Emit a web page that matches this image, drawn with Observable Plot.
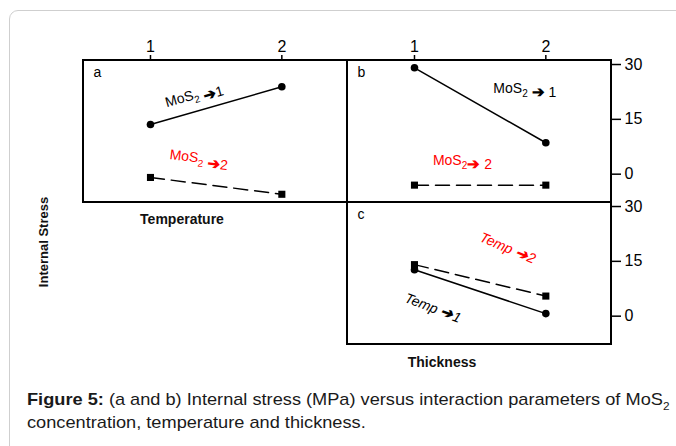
<!DOCTYPE html>
<html><head><meta charset="utf-8">
<script src="https://cdn.jsdelivr.net/npm/d3@7"></script>
<script src="https://cdn.jsdelivr.net/npm/@observablehq/plot@0.6"></script>
<style>
body{margin:0;background:#fff;font-family:"Liberation Sans",Arial,sans-serif;}
#wrap{position:relative;width:676px;height:446px;overflow:hidden;background:#fff;}
#card{position:absolute;left:9px;top:10px;width:720px;height:520px;border:1px solid #cfcfcf;border-radius:9px;}
#chart{position:absolute;left:0;top:0;}
.lab{position:absolute;font-weight:bold;font-size:14px;color:#111;white-space:nowrap;transform:translate(-50%,-50%);}
#ylab{font-size:13px;transform:translate(-50%,-50%) rotate(-90deg);}
#cap{position:absolute;left:27px;top:389px;font-size:17px;line-height:21.4px;color:#1a1a1a;transform:scaleX(1.07);transform-origin:0 0;white-space:nowrap;}
#cap .sub{font-size:11px;position:relative;top:5px;}
</style></head><body>
<div id="wrap">
<div id="card"></div>
<div id="chart"></div>
<div class="lab" id="ylab" style="left:43px;top:242px">Internal Stress</div>
<div class="lab" id="xlab1" style="left:182px;top:219px">Temperature</div>
<div class="lab" id="xlab2" style="left:442px;top:362px">Thickness</div>
<div id="cap"><b>Figure 5:</b> (a and b) Internal stress (MPa) versus interaction parameters of MoS<span class="sub">2</span><br>concentration, temperature and thickness.</div>
</div>
<script>
// Factor levels on the x axis
const levels = [1, 2];
// Panels
const panels = ["a", "b", "c"];
const panelCols = ["left", "right", "right"];
const panelRows = ["top", "top", "bottom"];
// Internal stress (MPa): level 1 (solid, circles) and level 2 (dashed, squares) of the traced factor
const aLevel1 = [13.6, 23.9];   // MoS2 -> 1 vs Temperature
const aLevel2 = [-0.9, -5.5];   // MoS2 -> 2 vs Temperature
const bLevel1 = [29.1, 8.6];    // MoS2 -> 1 vs Thickness
const bLevel2 = [-3.0, -3.0];   // MoS2 -> 2 vs Thickness
const cLevel1 = [12.7, 0.7];    // Temp -> 1 vs Thickness
const cLevel2 = [14.1, 5.5];    // Temp -> 2 vs Thickness
// Y ticks
const yTicks = [0, 15, 30];
// Trace labels
const traceLabels = ["MoS_2 ➔1", "MoS_2 ➔2", "MoS_2 ➔ 1", "MoS_2➔ 2", "Temp ➔2", "Temp ➔1"];
const labelPanels = ["a", "a", "b", "b", "c", "c"];

const series1 = [aLevel1, bLevel1, cLevel1];
const series2 = [aLevel2, bLevel2, cLevel2];
const panelTable = panels.map((p, i) => ({panel: p, col: panelCols[i], row: panelRows[i]}));
const toRows = (series) => panels.flatMap((p, i) =>
  levels.map((lv, j) => ({panel: p, col: panelCols[i], row: panelRows[i], x: lv, y: series[i][j]})));
const rows1 = toRows(series1);
const rows2 = toRows(series2);

const xDomain = [0.49, 2.5];
const yDomain = [-7.75, 31.1];

// label layout (position in data units, rotation, colour, style)
const labelLayout = [
  {x: 1.33, y: 21.7, rotate: -16, fill: "black", fontStyle: "normal"},
  {x: 1.37, y: 4.4, rotate: 7, fill: "red", fontStyle: "normal"},
  {x: 1.84, y: 23.5, rotate: 0, fill: "black", fontStyle: "normal"},
  {x: 1.365, y: 3.6, rotate: 0, fill: "red", fontStyle: "normal"},
  {x: 1.71, y: 18.6, rotate: 23, fill: "red", fontStyle: "italic"},
  {x: 1.14, y: 2.2, rotate: 21, fill: "black", fontStyle: "italic"}
];
const labelMarks = traceLabels.map((t, i) => {
  const pi = panels.indexOf(labelPanels[i]);
  const L = labelLayout[i];
  return Plot.text([{col: panelCols[pi], row: panelRows[pi], text: t}], {
    fx: "col", fy: "row", x: () => L.x, y: () => L.y, text: "text",
    rotate: L.rotate, fill: L.fill, fontStyle: L.fontStyle, fontSize: 14
  });
});

const chart = Plot.plot({
  width: 676, height: 380,
  marginLeft: 82, marginRight: 65, marginTop: 59, marginBottom: 36,
  fx: {domain: ["left", "right"], axis: null, padding: 0},
  fy: {domain: ["top", "bottom"], axis: null, padding: 0},
  x: {domain: xDomain, label: null},
  y: {domain: yDomain, label: null},
  style: {fontFamily: "'Liberation Sans', Arial, sans-serif", fontSize: "16px", color: "black", background: "transparent"},
  marks: [
    Plot.axisX(levels, {anchor: "top", tickSize: 6, tickPadding: 3, strokeWidth: 1.5, fontSize: 16, tickFormat: d => String(d), label: null}),
    Plot.axisY(yTicks, {anchor: "right", tickSize: 9, tickPadding: 4, strokeWidth: 1.5, fontSize: 16, tickFormat: d => String(d), label: null}),
    Plot.rect(panelTable, {fx: "col", fy: "row", x1: () => xDomain[0], x2: () => xDomain[1], y1: () => yDomain[0], y2: () => yDomain[1], fill: "none", stroke: "black", strokeWidth: 2}),
    Plot.text(panelTable, {fx: "col", fy: "row", text: "panel", frameAnchor: "top-left", dx: 10, dy: 7, fontSize: 14}),
    Plot.line(rows1, {fx: "col", fy: "row", x: "x", y: "y", z: "panel", stroke: "black", strokeWidth: 1.5}),
    Plot.line(rows2, {fx: "col", fy: "row", x: "x", y: "y", z: "panel", stroke: "black", strokeWidth: 1.5, strokeDasharray: "14,7"}),
    Plot.dot(rows1, {fx: "col", fy: "row", x: "x", y: "y", r: 3.8, fill: "black", stroke: "none"}),
    Plot.dot(rows2, {fx: "col", fy: "row", x: "x", y: "y", r: 4, symbol: "square", fill: "black", stroke: "none"}),
    ...labelMarks
  ]
});
document.getElementById("chart").appendChild(chart);

// render "_2" as a subscript and the arrow in bold
d3.select(chart).selectAll("text").each(function() {
  const el = d3.select(this);
  const s = el.text();
  if (!s.includes("➔")) return;
  el.text(null);
  const tokens = s.split(/(_2|➔)/).filter(d => d !== "");
  for (const tk of tokens) {
    if (tk === "_2") {
      el.append("tspan").attr("dy", 4).attr("font-size", 10).text("2");
      el.append("tspan").attr("dy", -4).text("");
    } else if (tk === "➔") {
      el.append("tspan").attr("font-weight", "bold").attr("font-size", 15).text("➔");
    } else {
      el.append("tspan").text(tk);
    }
  }
});
</script>
</body></html>
